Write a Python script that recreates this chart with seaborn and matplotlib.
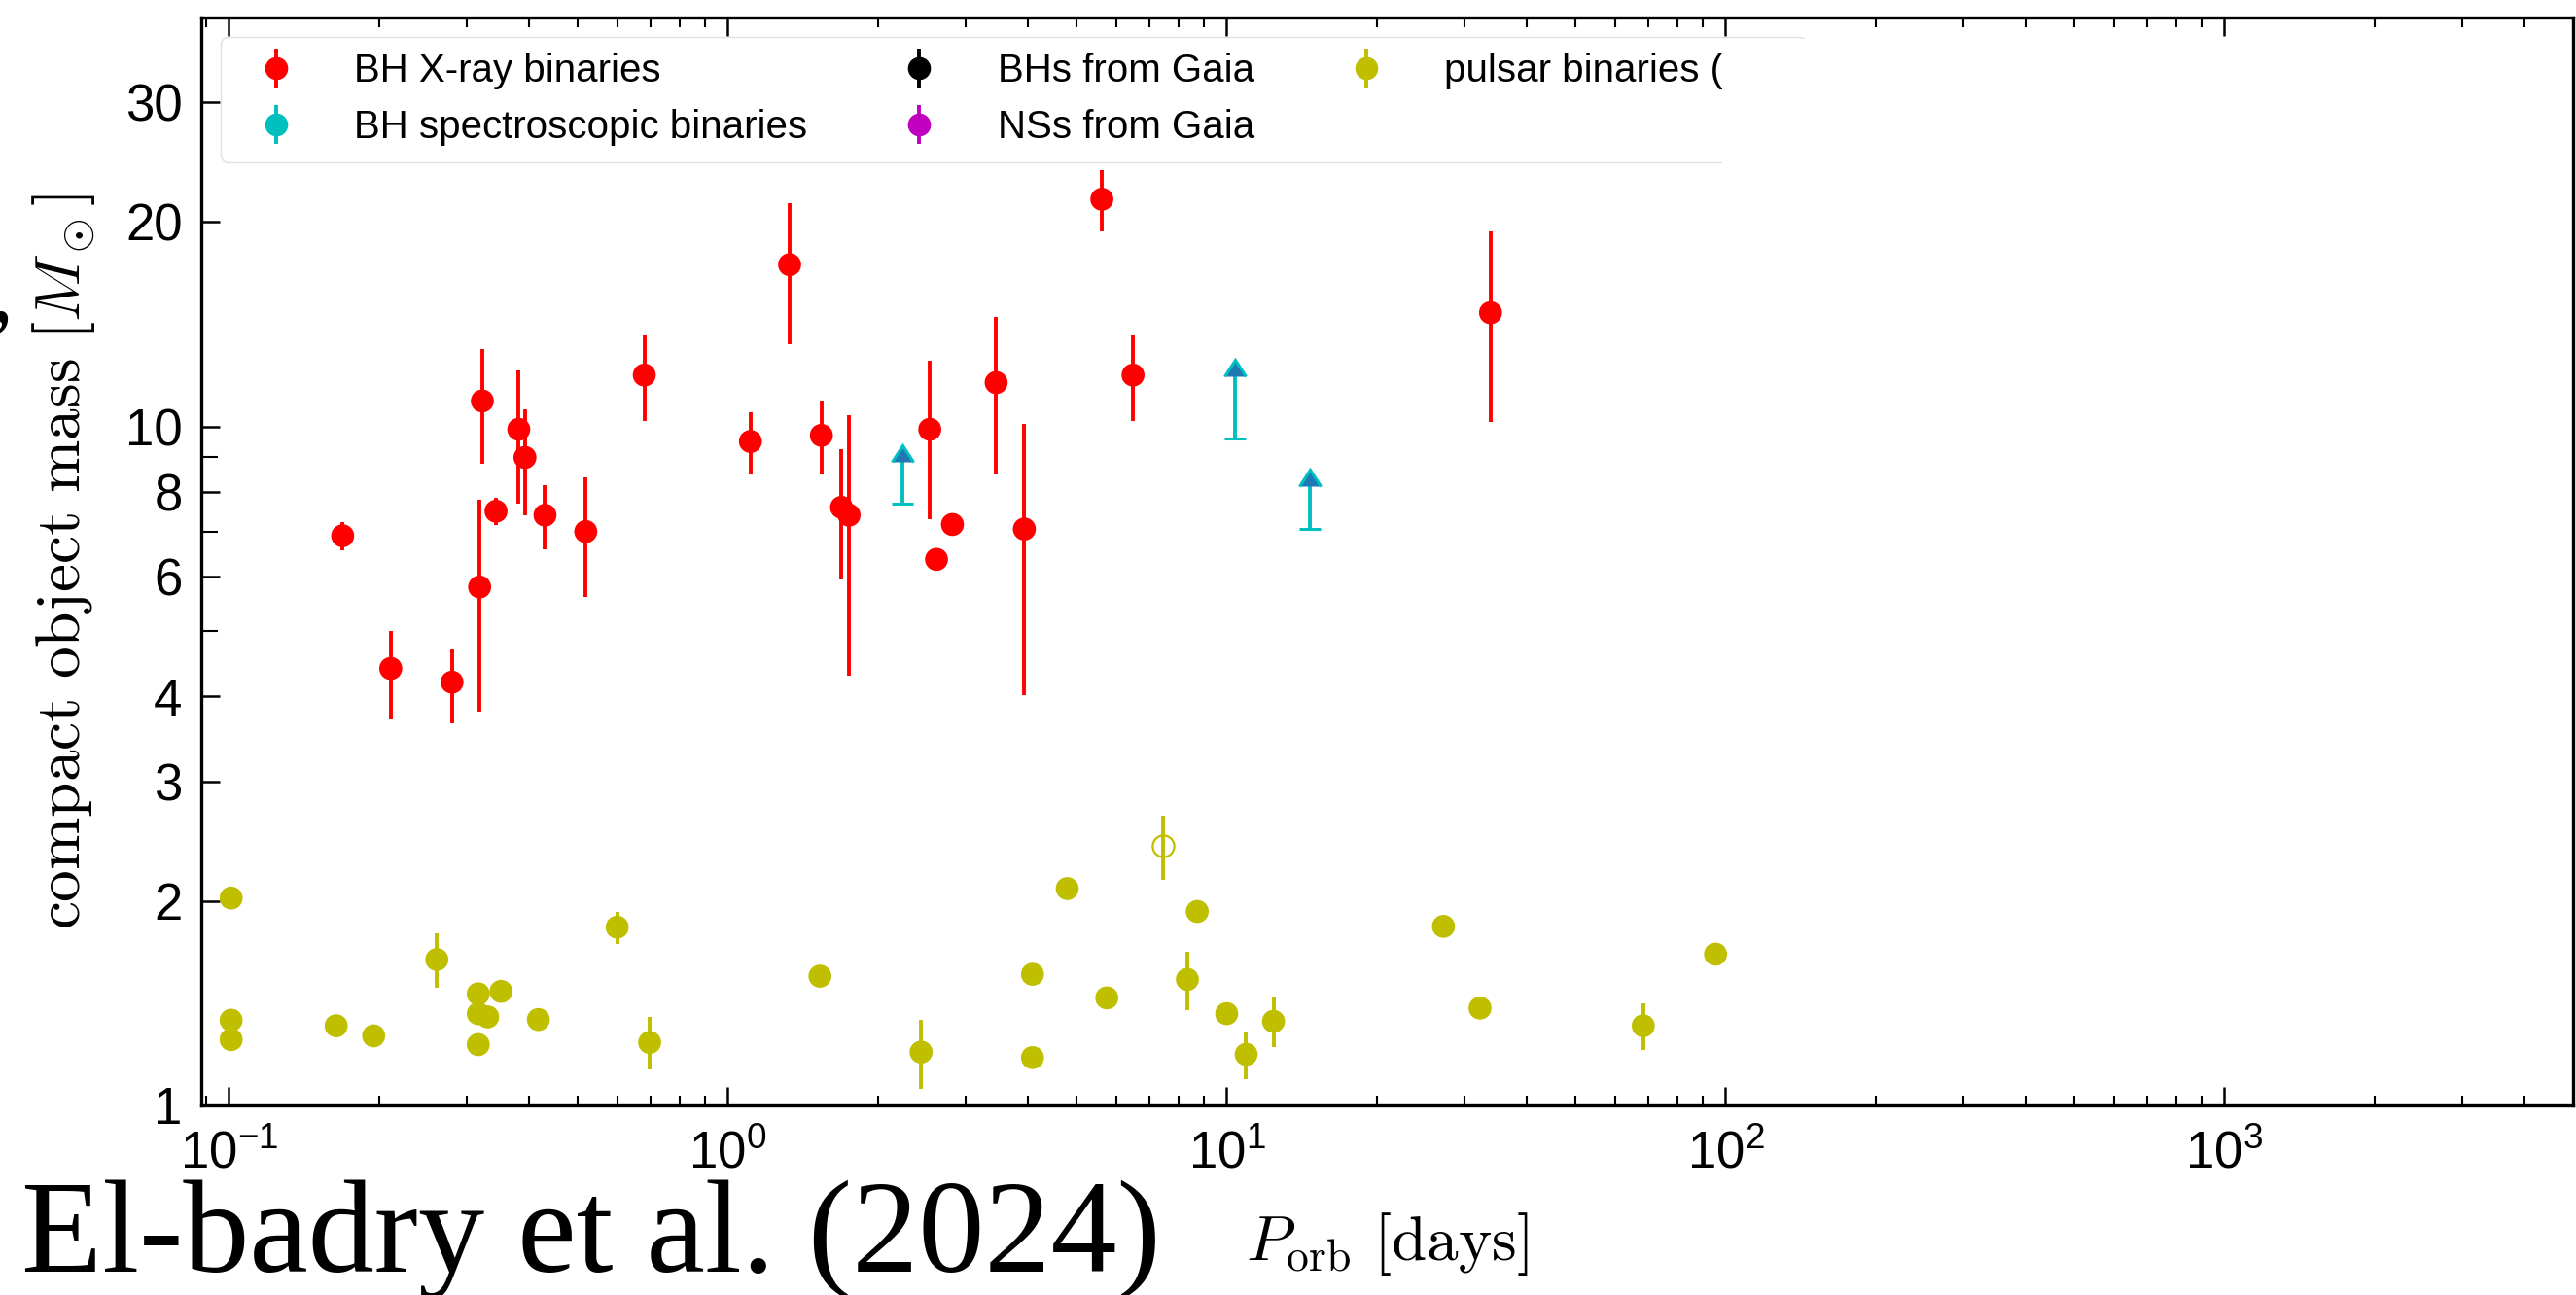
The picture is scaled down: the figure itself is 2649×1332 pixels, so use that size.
import numpy as np
import pandas as pd
import matplotlib
matplotlib.use('Agg')
import matplotlib.pyplot as plt
import seaborn as sns
from matplotlib.patches import Rectangle
from matplotlib.ticker import LogLocator, NullFormatter, FixedLocator, FixedFormatter

# BH X-ray binaries: period [d], mass [Msun], lower / upper error
xrb_P = [0.169, 0.211, 0.280, 0.318, 0.322, 0.343, 0.381, 0.392, 0.430, 0.519,
         0.680, 1.11, 1.33, 1.54, 1.69, 1.75, 2.54, 2.62, 2.82, 3.45,
         3.93, 5.62, 6.49, 33.8]
xrb_M = [6.9, 4.4, 4.2, 5.8, 10.9, 7.5, 9.9, 9.0, 7.4, 7.0,
         11.9, 9.5, 17.3, 9.7, 7.6, 7.4, 9.9, 6.37, 7.17, 11.6,
         7.06, 21.6, 11.9, 14.7]
xrb_lo = [0.33, 0.7, 0.55, 2.0, 2.1, 0.35, 2.2, 1.6, 0.8, 1.4,
          1.7, 1.0, 4.1, 1.2, 1.65, 3.1, 2.6, 0.15, 0.15, 3.1,
          3.04, 2.2, 1.7, 4.55]
xrb_hi = [0.33, 0.6, 0.5, 2.0, 2.1, 0.35, 2.2, 1.6, 0.8, 1.4,
          1.7, 1.0, 4.0, 1.2, 1.65, 3.0, 2.6, 0.15, 0.15, 2.9,
          3.04, 2.2, 1.7, 4.7]

# BH spectroscopic binaries: lower limits
spec_P = [2.24, 10.4, 14.65]
spec_M = [7.70, 9.61, 7.07]
spec_arrow = [1.17, 2.23, 1.10]

# pulsar binaries
psr_P = [0.101, 0.101, 0.101, 0.164, 0.195, 0.261, 0.316, 0.316, 0.330, 0.316,
         0.351, 0.417, 0.600, 0.697, 1.53, 2.44, 4.08, 4.08, 4.79, 5.75,
         8.34, 8.73, 10.0, 10.94, 12.41, 27.2, 32.2, 68.4, 95.5]
psr_M = [2.02, 1.335, 1.25, 1.31, 1.266, 1.64, 1.46, 1.365, 1.35, 1.229,
         1.472, 1.338, 1.83, 1.238, 1.55, 1.198, 1.176, 1.56, 2.086, 1.44,
         1.533, 1.93, 1.365, 1.189, 1.33, 1.835, 1.391, 1.31, 1.67]
psr_err = [0.04, 0.03, 0.03, 0.05, 0.02, 0.15, 0.04, 0.03, 0.03, 0.03,
           0.02, 0.03, 0.10, 0.11, 0.02, 0.14, 0.02, 0.02, 0.02, 0.05,
           0.15, 0.02, 0.02, 0.095, 0.11, 0.02, 0.02, 0.105, 0.02]
psr_open_P = [7.46]
psr_open_M = [2.41]
psr_open_err = [0.26]

ytick_vals = [1, 2, 3, 4, 6, 8, 10, 20, 30]
yminor_vals = [5, 7, 9]

sns.set_style('ticks')
plt.rcParams['font.family'] = ['Liberation Sans', 'DejaVu Sans']
plt.rcParams['axes.edgecolor'] = 'black'
plt.rcParams['text.color'] = 'black'
plt.rcParams['axes.labelcolor'] = 'black'

W, H = 2649, 1332
fig = plt.figure(figsize=(W / 100, H / 100), dpi=100)
ax = fig.add_axes([207 / W, 1 - 1137 / H, (2646 - 207) / W, (1137 - 18) / H])
ax.set_xscale('log')
ax.set_yscale('log')

df = pd.DataFrame({'P': xrb_P + psr_P, 'M': xrb_M + psr_M,
                   'kind': ['xrb'] * len(xrb_P) + ['psr'] * len(psr_P)})
sns.scatterplot(data=df, x='P', y='M', hue='kind', palette={'xrb': 'r', 'psr': 'y'},
                s=290, linewidth=0, legend=False, ax=ax, zorder=3)

elw = 2.8
ax.errorbar(xrb_P, xrb_M, yerr=[xrb_lo, xrb_hi], fmt='none', ecolor='r', elinewidth=elw, zorder=2)
ax.errorbar(psr_P, psr_M, yerr=psr_err, fmt='none', ecolor='y', elinewidth=elw, zorder=2)
ax.errorbar(psr_open_P, psr_open_M, yerr=psr_open_err, fmt='o', mfc='none', mec='y', ms=16,
            mew=1.6, ecolor='y', elinewidth=elw, zorder=3)
ax.errorbar(spec_P, spec_M, yerr=spec_arrow, lolims=True, fmt='none', ecolor='c',
            elinewidth=elw, capsize=8, capthick=2.2, zorder=3)

# legend handles
leg_items = [('BH X-ray binaries', 'r'), ('BH spectroscopic binaries', 'c'),
             ('BHs from Gaia', 'k'), ('NSs from Gaia', 'm'), ('pulsar binaries (NS)', 'y')]
handles = []
for lab, col in leg_items:
    h = ax.errorbar([np.nan], [np.nan], yerr=[np.nan], fmt='o', color=col, ms=16,
                    elinewidth=elw, label=lab)
    handles.append(h)
leg = ax.legend(handles=handles, loc='upper left', ncol=3, fontsize=29, handletextpad=1.0,
                columnspacing=1.85, borderaxespad=0.5, frameon=True, framealpha=0.8,
                edgecolor='0.85', fancybox=True)

ax.set_xlim(0.088, 5000)
ax.set_ylim(1, 40)

ax.xaxis.set_major_locator(LogLocator(base=10, numticks=20))
ax.xaxis.set_minor_locator(LogLocator(base=10, subs=np.arange(2, 10), numticks=20))
ax.xaxis.set_minor_formatter(NullFormatter())
ax.yaxis.set_major_locator(FixedLocator(ytick_vals))
ax.yaxis.set_major_formatter(FixedFormatter([str(v) for v in ytick_vals]))
ax.yaxis.set_minor_locator(FixedLocator(yminor_vals))
ax.yaxis.set_minor_formatter(NullFormatter())

ax.tick_params(which='both', direction='in', top=True, right=False, colors='k')
ax.tick_params(which='major', length=14, width=1.8, labelsize=38, pad=14)
ax.tick_params(axis='x', which='major', pad=18)
ax.tick_params(which='minor', length=7, width=1.5)
ax.tick_params(axis='y', which='minor', length=12)
for s in ax.spines.values():
    s.set_linewidth(2.4)
    s.set_color('black')

ax.set_xlabel(r'$P_{\rm orb}\ [{\rm days}]$', fontsize=47, math_fontfamily='cm')
ax.xaxis.set_label_coords(0.5, -0.0965)
ax.set_ylabel(r'${\rm compact\ object\ mass}\ [M_\odot]$', fontsize=47, math_fontfamily='cm')
ax.yaxis.set_label_coords(-0.044, 0.5)

# slide overlay: white box cutting the legend, citation text, stray glyph
fig.add_artist(Rectangle((1771 / W, 1 - 174 / H), 0.3, (174 - 40) / H, transform=fig.transFigure,
                         facecolor='white', edgecolor='none', zorder=10))
fig.text(22 / W, 1 - 1308 / H, 'El-badry et al. (2024)', fontsize=98, family='Liberation Serif',
         va='baseline', ha='left', color='black')
fig.text(-0.004, 1 - 330 / H, ',', fontsize=70, family='Liberation Serif', va='baseline',
         color='black')

fig.savefig('out.png', dpi=100)
